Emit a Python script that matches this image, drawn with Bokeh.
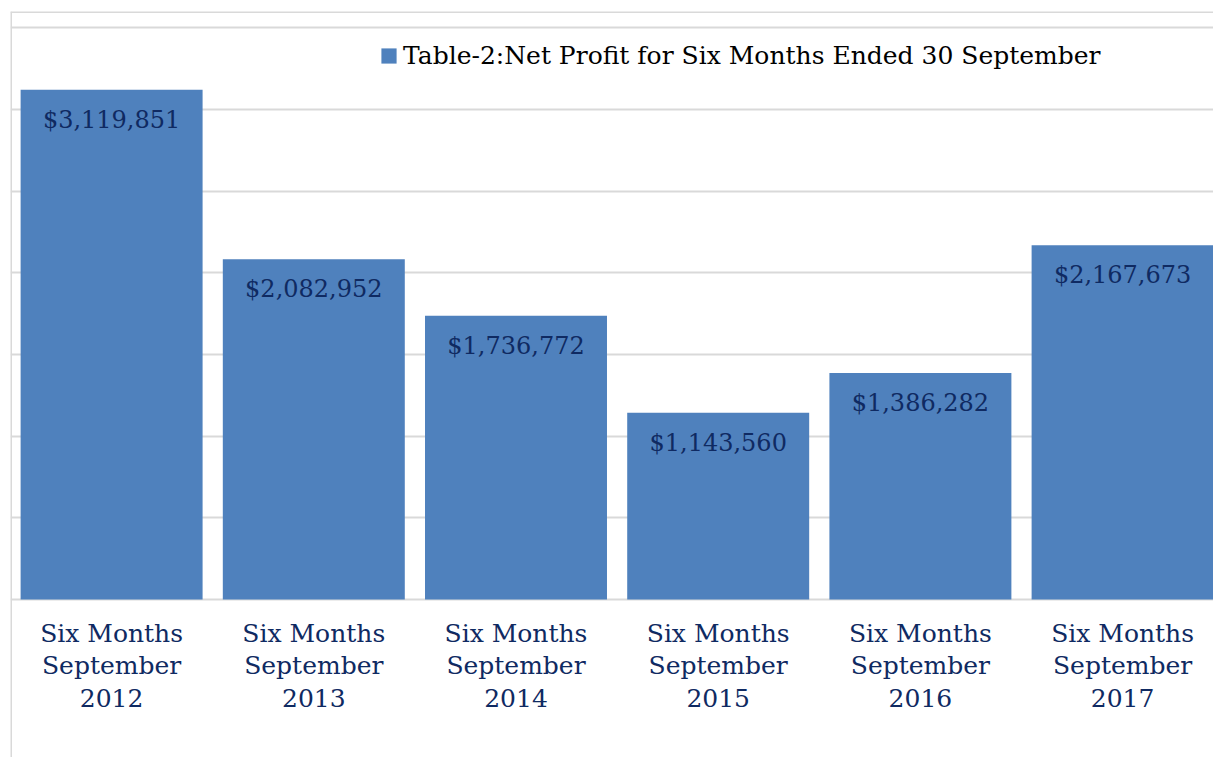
from bokeh.plotting import figure
from bokeh.models import ColumnDataSource, Range1d, FixedTicker, Span, Legend, LegendItem
from bokeh.core.properties import value
from bokeh.embed import file_html
from bokeh.resources import INLINE

categories = ["Six Months\nSeptember\n2012", "Six Months\nSeptember\n2013",
              "Six Months\nSeptember\n2014", "Six Months\nSeptember\n2015",
              "Six Months\nSeptember\n2016", "Six Months\nSeptember\n2017"]
net_profit = [3119851, 2082952, 1736772, 1143560, 1386282, 2167673]
value_labels = ["$3,119,851", "$2,082,952", "$1,736,772", "$1,143,560", "$1,386,282", "$2,167,673"]
grid_ticks = [0, 500000, 1000000, 1500000, 2000000, 2500000, 3000000, 3500000]
series_name = "Table-2:Net Profit for Six Months Ended 30 September"

xs = list(range(len(categories)))
zeros = [0] * len(categories)
src = ColumnDataSource(dict(x=xs, top=net_profit, lab=value_labels, cat=categories, zero=zeros))

FONT = value("DejaVu Serif")
TXT = "#0F2A62"

p = figure(width=1213, height=757, output_backend="svg", toolbar_location=None,
           x_range=Range1d(-0.5, -0.5 + 1203 / 202.2),
           y_range=Range1d(-(757 - 599) / 163.4 * 1e6, (599 - 11) / 163.4 * 1e6),
           min_border_left=10, min_border_top=11, min_border_right=0, min_border_bottom=0)
p.xaxis.visible = False
p.yaxis.visible = False
p.xgrid.visible = False
p.ygrid.ticker = FixedTicker(ticks=grid_ticks)
p.ygrid.grid_line_color = "#d9d9d9"
p.ygrid.grid_line_width = 2
p.outline_line_color = None
p.background_fill_color = "white"
p.border_fill_color = "white"

bars = p.vbar(x="x", top="top", width=0.9, source=src, fill_color="#4F81BD", line_color=None)

p.text(x="x", y="top", text="lab", source=src, text_align="center", text_baseline="middle",
       y_offset=30, text_font=FONT, text_font_size="24px", text_color=TXT)

p.text(x="x", y="zero", text="cat", source=src, text_align="center", text_baseline="top",
       y_offset=19, text_font=FONT, text_font_size="25px", text_color=TXT, text_line_height=1.13)

p.add_layout(Span(location=p.x_range.start, dimension="height", line_color="#d9d9d9", line_width=3))
p.add_layout(Span(location=p.y_range.end, dimension="width", line_color="#d9d9d9", line_width=3))

legend = Legend(items=[LegendItem(label=series_name, renderers=[bars])],
                location=(369, 687), orientation="horizontal",
                glyph_width=19, glyph_height=19, label_standoff=5,
                padding=0, margin=0, spacing=0,
                border_line_color=None, background_fill_alpha=0,
                label_text_font="DejaVu Serif", label_text_font_size="25px", label_text_color="black")
p.add_layout(legend)

open("out.html", "w").write(file_html(p, INLINE))
